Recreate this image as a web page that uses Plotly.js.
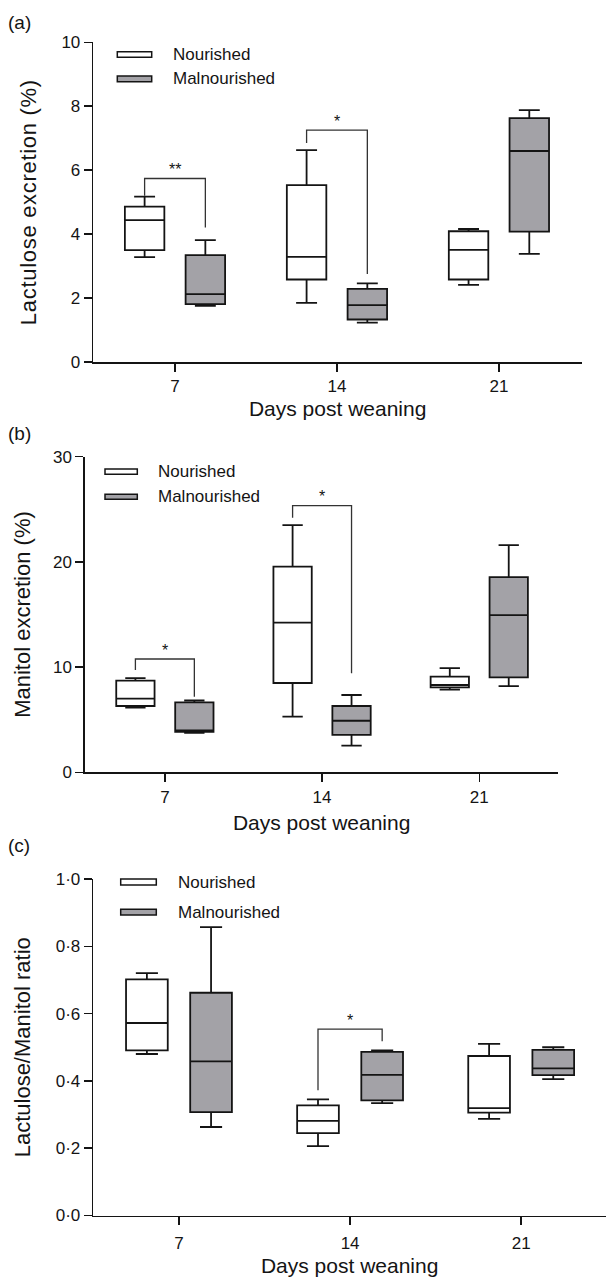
<!DOCTYPE html>
<html>
<head>
<meta charset="utf-8">
<script src="https://cdn.plot.ly/plotly-3.0.1.min.js"></script>
<style>
  html, body { margin: 0; padding: 0; background: #ffffff; }
  #chart { width: 606px; height: 1280px; }
  .ytitle { letter-spacing: 0.7px; }
</style>
</head>
<body>
<div id="chart"></div>
<script>
// ---------------- data ----------------
const days = [7, 14, 21];
const groupNames = ['Nourished', 'Malnourished'];

// Panel (a) Lactulose excretion (%)
const lacN_lower = [3.28, 1.85, 2.41];
const lacN_q1    = [3.50, 2.58, 2.58];
const lacN_med   = [4.44, 3.29, 3.51];
const lacN_q3    = [4.86, 5.53, 4.09];
const lacN_upper = [5.17, 6.63, 4.16];
const lacM_lower = [1.76, 1.23, 3.38];
const lacM_q1    = [1.81, 1.33, 4.08];
const lacM_med   = [2.12, 1.78, 6.60];
const lacM_q3    = [3.34, 2.29, 7.63];
const lacM_upper = [3.81, 2.46, 7.88];

// Panel (b) Manitol excretion (%)
const manN_lower = [6.14, 5.29, 7.85];
const manN_q1    = [6.30, 8.49, 8.08];
const manN_med   = [7.00, 14.22, 8.30];
const manN_q3    = [8.71, 19.55, 9.09];
const manN_upper = [8.96, 23.50, 9.91];
const manM_lower = [3.74, 2.53, 8.20];
const manM_q1    = [3.85, 3.55, 9.03];
const manM_med   = [3.98, 4.90, 14.95];
const manM_q3    = [6.65, 6.30, 18.56];
const manM_upper = [6.84, 7.35, 21.60];

// Panel (c) Lactulose/Manitol ratio
const ratN_lower = [0.480, 0.206, 0.287];
const ratN_q1    = [0.491, 0.245, 0.306];
const ratN_med   = [0.572, 0.281, 0.319];
const ratN_q3    = [0.702, 0.327, 0.474];
const ratN_upper = [0.720, 0.345, 0.510];
const ratM_lower = [0.263, 0.334, 0.405];
const ratM_q1    = [0.307, 0.342, 0.417];
const ratM_med   = [0.458, 0.418, 0.4375];
const ratM_q3    = [0.662, 0.486, 0.492];
const ratM_upper = [0.857, 0.491, 0.500];

// significance brackets: day, bracket top, left-leg end, right-leg end, label
const sigA_day = [7, 14];    const sigA_top = [5.74, 7.25];  const sigA_left = [5.20, 6.85];  const sigA_right = [4.21, 2.75]; const sigA_lab = ['**', '*'];
const sigB_day = [7, 14];    const sigB_top = [10.77, 25.35]; const sigB_left = [9.72, 24.2]; const sigB_right = [7.19, 9.41]; const sigB_lab = ['*', '*'];
const sigC_day = [14];       const sigC_top = [0.554];        const sigC_left = [0.372];      const sigC_right = [0.518];      const sigC_lab = ['*'];

// tick labels
const yTicksA = [0, 2, 4, 6, 8, 10];
const yTicksB = [0, 10, 20, 30];
const yTicksC = [0, 0.2, 0.4, 0.6, 0.8, 1.0];
const yTickTextC = ['0·0', '0·2', '0·4', '0·6', '0·8', '1·0'];

// ---------------- styles ----------------
const W = 606, H = 1280;
const px = x => x / W;
const py = y => 1 - y / H;
const FONT = 'Arial, "Liberation Sans", Helvetica, sans-serif';
const INK = '#141414';
const FILL_N = '#ffffff';
const FILL_M = '#a3a2a7';
const BOXGAP = 0.25, BOXGROUPGAP = 0.35;
// offset of each box centre from its day (plotly grouped box formula, dPos = 3.5)
const OFF = 2 * 3.5 * 0.25 * (1 - BOXGAP);

function boxTrace(name, fill, xa, ya, grp, lower, q1, med, q3, upper) {
  return {
    type: 'box', name: name, x: days,
    lowerfence: lower, q1: q1, median: med, q3: q3, upperfence: upper,
    xaxis: xa, yaxis: ya,
    alignmentgroup: grp, offsetgroup: name,
    fillcolor: fill, line: { color: INK, width: 1.8 },
    whiskerwidth: 0.53, boxpoints: false, showlegend: false, hoverinfo: 'skip'
  };
}

const data = [
  boxTrace(groupNames[0], FILL_N, 'x',  'y',  'a', lacN_lower, lacN_q1, lacN_med, lacN_q3, lacN_upper),
  boxTrace(groupNames[1], FILL_M, 'x',  'y',  'a', lacM_lower, lacM_q1, lacM_med, lacM_q3, lacM_upper),
  boxTrace(groupNames[0], FILL_N, 'x2', 'y2', 'b', manN_lower, manN_q1, manN_med, manN_q3, manN_upper),
  boxTrace(groupNames[1], FILL_M, 'x2', 'y2', 'b', manM_lower, manM_q1, manM_med, manM_q3, manM_upper),
  boxTrace(groupNames[0], FILL_N, 'x3', 'y3', 'c', ratN_lower, ratN_q1, ratN_med, ratN_q3, ratN_upper),
  boxTrace(groupNames[1], FILL_M, 'x3', 'y3', 'c', ratM_lower, ratM_q1, ratM_med, ratM_q3, ratM_upper)
];

const shapes = [];
const annotations = [];

function addBrackets(xref, yref, dayArr, top, left, right, labs) {
  for (let i = 0; i < dayArr.length; i++) {
    const xl = dayArr[i] - OFF, xr = dayArr[i] + OFF;
    shapes.push({
      type: 'path', xref: xref, yref: yref,
      path: `M ${xl},${left[i]} L ${xl},${top[i]} L ${xr},${top[i]} L ${xr},${right[i]}`,
      line: { color: '#333333', width: 1.3 }
    });
    annotations.push({
      xref: xref, yref: yref, x: dayArr[i], y: top[i], text: labs[i],
      showarrow: false, xanchor: 'center', yanchor: 'middle', yshift: 9,
      font: { family: FONT, size: 16, color: INK }
    });
  }
}
addBrackets('x',  'y',  sigA_day, sigA_top, sigA_left, sigA_right, sigA_lab);
addBrackets('x2', 'y2', sigB_day, sigB_top, sigB_left, sigB_right, sigB_lab);
addBrackets('x3', 'y3', sigC_day, sigC_top, sigC_left, sigC_right, sigC_lab);

// legends (wide flat swatches, drawn in pixel space)
function addLegend(x0, x1, rows, textX) {
  const fills = [FILL_N, FILL_M];
  rows.forEach((r, i) => {
    shapes.push({
      type: 'rect', xref: 'paper', yref: 'paper',
      x0: px(x0), x1: px(x1), y0: py(r[0]), y1: py(r[1]),
      fillcolor: fills[i], line: { color: INK, width: 1.5 }
    });
    annotations.push({
      xref: 'paper', yref: 'paper', x: px(textX), y: py((r[0] + r[1]) / 2),
      text: groupNames[i], showarrow: false, xanchor: 'left', yanchor: 'middle',
      font: { family: FONT, size: 17, color: INK }
    });
  });
}
addLegend(117.3, 151.7, [[51.7, 57.3], [76, 81.7]], 170.5);
addLegend(105, 137.3, [[469, 474.3], [494.3, 499.3]], 156);
addLegend(120.7, 156.3, [[879, 885], [909.3, 915]], 176);

// panel letters
[['(a)', 23], ['(b)', 433], ['(c)', 845]].forEach(p => {
  annotations.push({
    xref: 'paper', yref: 'paper', x: px(6), y: py(p[1]), text: p[0],
    showarrow: false, xanchor: 'left', yanchor: 'middle',
    font: { family: FONT, size: 19, color: INK }
  });
});

const tickFont = { family: FONT, size: 17, color: INK };
function xAxis(dom, rng, anchor, standoff, labelGap) {
  return {
    domain: dom, range: rng, anchor: anchor, autorange: false,
    tickvals: days, ticktext: days.map(String),
    ticks: 'outside', ticklen: 8, tickwidth: 1.5, tickcolor: INK,
    ticklabelstandoff: labelGap,
    showline: true, linecolor: INK, linewidth: 1.6,
    showgrid: false, zeroline: false, tickfont: tickFont,
    title: { text: 'Days post weaning', font: { family: FONT, size: 21, color: INK }, standoff: standoff }
  };
}
function yAxis(dom, rng, anchor, tv, tt, title, standoff) {
  return {
    domain: dom, range: rng, anchor: anchor, autorange: false,
    tickvals: tv, ticktext: tt,
    ticks: 'outside', ticklen: 8, tickwidth: 1.5, tickcolor: INK,
    showline: true, linecolor: INK, linewidth: 1.6,
    showgrid: false, zeroline: false, tickfont: tickFont,
    title: { text: title, font: { family: FONT, size: 22, color: INK }, standoff: standoff }
  };
}

const layout = {
  width: W, height: H,
  margin: { l: 0, r: 0, t: 0, b: 0, pad: 0 },
  paper_bgcolor: '#ffffff', plot_bgcolor: 'rgba(0,0,0,0)',
  showlegend: false,
  boxmode: 'group', boxgap: BOXGAP, boxgroupgap: BOXGROUPGAP,
  font: { family: FONT, color: INK },
  xaxis:  xAxis([px(93.3), px(582)], [3.47, 24.59], 'y', 6, 0),
  yaxis:  yAxis([py(362), py(42.3)], [0, 10], 'x', yTicksA, yTicksA.map(String), 'Lactulose excretion (%)', 18),
  xaxis2: xAxis([px(85), px(558.3)], [3.443, 24.52], 'y2', 9, 1),
  yaxis2: yAxis([py(772.3), py(456.7)], [0, 30], 'x2', yTicksB, yTicksB.map(String), 'Manitol excretion (%)', 16),
  xaxis3: xAxis([px(93.3), 1], [3.495, 24.47], 'y3', 7, 3),
  yaxis3: yAxis([py(1215.5), py(879)], [0, 1], 'x3', yTicksC, yTickTextC, 'Lactulose/Manitol ratio', 19),
  shapes: shapes,
  annotations: annotations
};

Plotly.newPlot('chart', data, layout, { staticPlot: true, displayModeBar: false });
</script>
</body>
</html>
